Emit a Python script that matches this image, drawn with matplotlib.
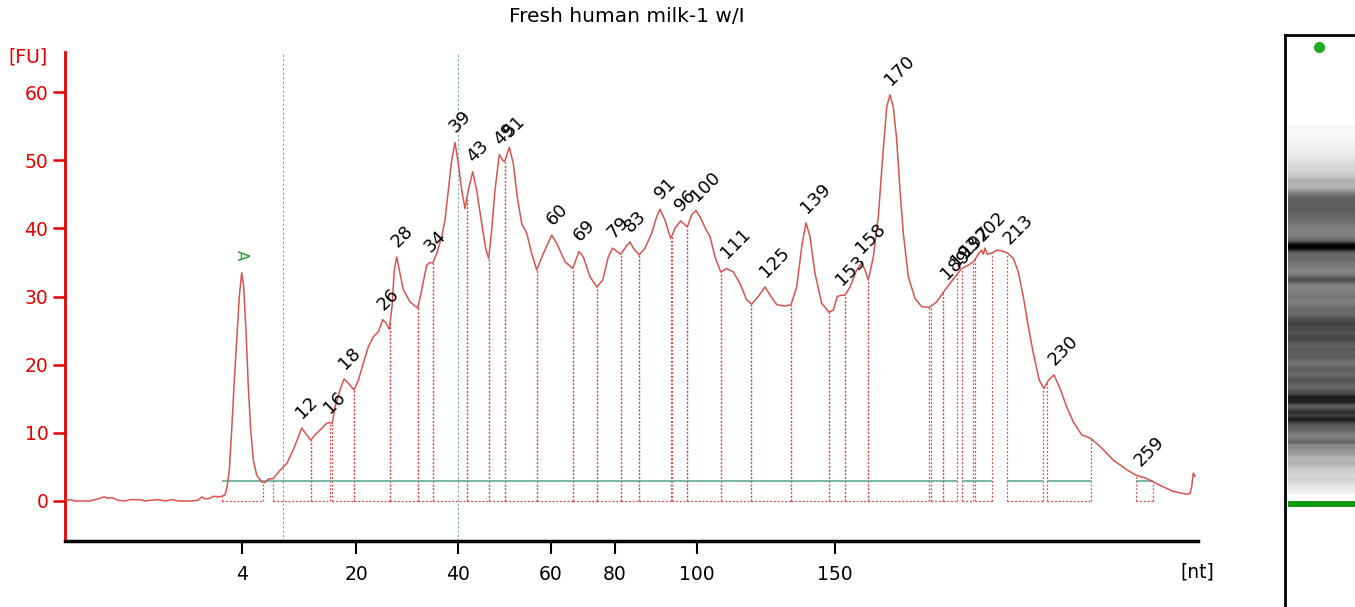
import numpy as np
import matplotlib
matplotlib.use("Agg")
import matplotlib.pyplot as plt

# ---------------- data ----------------
title = "Fresh human milk-1 w/I"

# migration time (arbitrary units along the x axis) and fluorescence [FU]
time = [65, 70, 75, 90, 100, 104, 108, 112, 118, 125, 130, 140, 145, 150, 158, 165,
        172, 178, 190, 198, 202, 205, 210, 214, 218, 222, 225, 227,
        229.3, 231.7, 234.3, 236.7, 239.3, 241.7, 243.7, 246, 248.3, 250.7, 253.3,
        256.7, 261.7, 265, 268.3, 273.3, 280, 286.7, 293.3, 298.3, 301.7, 306.7,
        310.7, 315, 320, 326.7, 330, 332.3, 335, 340, 344, 348.3, 354, 358.3,
        363.3, 368.3, 373.3, 378.3, 382.7, 386, 389.3, 392, 394.3, 396.7, 399.3,
        403.3, 410, 417.7, 421.7, 426.7, 430, 432.7, 436.7, 441.7, 445, 448.3,
        451.7, 455, 458.3, 461.7, 465, 468.3, 472.7, 476.7, 481.7, 486, 488.7,
        491.7, 495, 499.3, 502.7, 504.7, 509.3, 513.3, 517.3, 521.7, 526.7, 531.7,
        536.7, 543.3, 551.7, 556.7, 565, 572.7, 579, 583.3, 590, 596.7, 602.7,
        608.3, 612.5, 620.7, 626, 630, 633.3, 639, 645, 651.7, 656.7, 660, 665,
        670.7, 675, 680.7, 685, 687.3, 691.7, 696, 700, 706, 710, 715, 720.7,
        726.7, 733.3, 740, 746.7, 751.7, 758.3, 765, 770, 776.7, 785, 791, 796.7,
        801.7, 806, 810, 815, 821.7, 829, 833.3, 837.3, 841.7, 845, 850, 856.7,
        861.7, 865, 868.3, 873.3, 878.3, 882.7, 886.7, 890, 893.3, 896.7, 900,
        903.3, 908.3, 915, 921.7, 929.3, 936.7, 942.7, 950, 956.7, 961.7, 968.3,
        973.3, 978.3, 981.7, 983.3, 985, 987.3, 992.3, 996.7, 1001.7, 1007.3,
        1013.3, 1018.3, 1023.3, 1028.3, 1033.3, 1039.3, 1044, 1048.3, 1054, 1060,
        1066.7, 1073.3, 1081.7, 1090.7, 1100, 1113.3, 1126.7, 1135.7, 1146.7, 1160,
        1173.3, 1186.7, 1190, 1191.7, 1193.3, 1195]
fu = [0.1, 0.2, 0.0, 0.0, 0.4, 0.6, 0.4, 0.5, 0.1, 0.0, 0.2, 0.2, 0.0, 0.1, 0.2, 0.0,
      0.2, 0.0, 0.0, 0.1, 0.6, 0.3, 0.4, 0.7, 0.6, 0.7, 0.9, 2.0,
      4.5, 10.4, 17.7, 23.6, 30.0, 33.5, 31.4, 25.0, 16.8, 10.4, 6.0,
      3.8, 2.8, 2.7, 3.2, 3.3, 4.5, 5.5, 7.5, 9.4, 10.7, 9.7,
      8.9, 9.7, 10.4, 11.4, 11.5, 11.4, 13.8, 16.3, 17.9, 17.3, 16.3, 17.7,
      20.2, 22.6, 24.1, 24.8, 26.6, 26.1, 25.2, 28.5, 33.9, 35.8, 33.9,
      31.0, 29.2, 28.3, 31.0, 34.6, 35.0, 34.9, 36.3, 38.8, 41.2, 45.6,
      50.0, 52.6, 49.5, 45.6, 42.9, 45.6, 48.3, 45.6, 40.7, 36.8, 35.6,
      39.8, 45.6, 50.8, 50.0, 49.8, 51.9, 49.5, 44.6, 40.7, 39.3, 36.3,
      33.9, 36.3, 39.0, 37.8, 35.1, 34.1, 36.6, 35.8, 32.9, 31.4, 32.4,
      35.8, 37.1, 36.2, 37.3, 38.0, 37.1, 36.1, 37.1, 39.3, 41.7, 42.8, 41.2,
      38.5, 40.0, 41.1, 40.5, 40.2, 42.0, 42.6, 41.7, 39.8, 38.8, 35.8, 33.6,
      34.1, 33.6, 31.9, 29.5, 28.9, 30.0, 31.4, 30.2, 28.8, 28.6, 28.8, 31.4,
      37.3, 40.8, 38.8, 33.4, 29.0, 27.7, 28.0, 30.0, 30.2, 30.2, 31.4, 33.9,
      34.9, 33.9, 32.4, 35.8, 41.7, 50.5, 57.8, 59.6, 57.8, 53.0, 45.6,
      39.3, 32.9, 29.7, 28.5, 28.4, 29.2, 30.5, 31.9, 33.2, 34.1, 34.6,
      35.1, 36.2, 36.8, 36.2, 37.1, 36.2, 36.4, 36.8, 36.7, 36.4,
      35.6, 33.6, 30.0, 25.6, 21.7, 17.7, 16.5, 17.7, 18.5, 16.5,
      13.8, 11.6, 9.7, 9.2, 8.0, 6.0, 4.6, 3.8, 3.3, 2.3,
      1.4, 1.0, 1.1, 2.1, 4.1, 3.6]

# x-axis ladder ticks (nt)
tick_times = [242, 356, 458, 551, 615, 697, 835]
tick_labels = ["4", "20", "40", "60", "80", "100", "150"]

# called peaks: size label and peak time
peak_labels = ["12", "16", "18", "26", "28", "34", "39", "43", "49", "51", "60", "69",
               "79", "83", "91", "96", "100", "111", "125", "139", "153", "158", "170",
               "189", "193", "197", "202", "213", "230", "259"]
peak_times = [301.7, 329, 344, 382.7, 396.7, 430, 455, 472.7, 499.3, 509.3, 551.7, 579,
              612.5, 630, 660, 680.7, 696, 726.7, 765, 806, 841.7, 861.7, 890,
              946, 956, 966, 982, 1009, 1054, 1140]

# peak regions (start, end)
region_start = [222, 272.7, 310.7, 331.7, 354, 390, 418.3, 432.7, 466.7, 488.7, 504.7,
                536.7, 572.7, 596.7, 620.7, 639, 672, 687.3, 720.7, 751, 791, 829, 845,
                868.3, 931, 942.7, 961.7, 975, 1007.3, 1047.3, 1135.7]
region_end = [263.3, 310.7, 330, 354, 390, 418.3, 432.7, 466.7, 488.7, 504.7, 536.7,
              572.7, 596.7, 620.7, 639, 670.7, 687.3, 720.7, 751, 791, 829, 845, 868.3,
              929.3, 942.7, 956.7, 973.3, 992.3, 1043.3, 1091, 1153.3]

# baseline (green) segments and level
baseline_start = [222, 961.7, 1007.3, 1047.3, 1135.7]
baseline_end = [956.7, 992.3, 1043.3, 1091, 1153.3]
baseline_level = 2.9

marker_time = 241.7          # lower marker (4 nt)
upper_marker_time = 1393     # upper marker dot on the gel
ref_lines = [283, 458]

# ---------------- figure ----------------
W, H = 1355, 607
fig = plt.figure(figsize=(W / 100, H / 100), dpi=100)
plt.rcParams["font.family"] = ["DejaVu Sans"]

RED = "#e60000"
CURVE = "#d9534f"
DOT = "#e04848"
GREEN_BASE = "#6fae9e"

ax = fig.add_axes([65 / W, (H - 541) / H, (1198 - 65) / W, (541 - 52) / H])
ax.set_xlim(65, 1198)
ax.set_ylim(-5.87, 65.87)
for s in ("top", "right"):
    ax.spines[s].set_visible(False)
ax.spines["left"].set_color(RED)
ax.spines["left"].set_linewidth(2)
ax.spines["bottom"].set_color("black")
ax.spines["bottom"].set_linewidth(2.5)

ax.set_yticks(range(0, 61, 10))
ax.tick_params(axis="y", colors=RED, length=8.5, width=1.8, labelsize=13.5, pad=3.5)
ax.set_xticks(tick_times, tick_labels)
ax.tick_params(axis="x", colors="black", length=9, width=1.5, labelsize=13.5, pad=8)

time_a = np.asarray(time)
fu_a = np.asarray(fu)

for x in ref_lines:
    ax.axvline(x, color="#7aa5a5", ls=(0, (2, 2)), lw=0.8, zorder=1)

for s, e in zip(region_start, region_end):
    for x in (s, e):
        ax.vlines(x, 0, np.interp(x, time_a, fu_a), colors=DOT, linestyles=(0, (1.5, 1.5)),
                  lw=0.9, zorder=2)
    ax.hlines(0, s, e, colors=DOT, linestyles=(0, (1.5, 1.5)), lw=0.9, zorder=2)

for s, e in zip(baseline_start, baseline_end):
    ax.hlines(baseline_level, s, e, colors=GREEN_BASE, lw=1.3, zorder=2)

ax.plot(time_a, fu_a, color=CURVE, lw=1.1, zorder=3)

for lab, t in zip(peak_labels, peak_times):
    y = np.interp(t, time_a, fu_a)
    ax.annotate(lab, (t, y), xytext=(2.5, 4.5), textcoords="offset points",
                rotation=45, rotation_mode="anchor", ha="left", va="bottom",
                fontsize=13, color="black", zorder=4)

ax.annotate("A", (marker_time, np.interp(marker_time, time_a, fu_a)), xytext=(0, 9),
            textcoords="offset points", rotation=-90, ha="center", va="bottom",
            fontsize=11, color="#2a9a2a")

fig.text(28 / W, 1 - 57 / H, "[FU]", color=RED, fontsize=13.5, ha="center", va="center")
fig.text(1197 / W, 1 - 572 / H, "[nt]", color="black", fontsize=13.5, ha="center", va="center")
fig.text(627 / W, 1 - 17 / H, title, color="black", fontsize=14.5, ha="center", va="center")

# ---------------- pseudo-gel lane ----------------
gax = fig.add_axes([1285 / W, 0, (1360 - 1285) / W, (H - 35) / H])
px_per_time = 0.397
gel_marker_px = 504
t_top = marker_time + (gel_marker_px - 35) / px_per_time
t_bot = marker_time + (gel_marker_px - H) / px_per_time
gax.set_xlim(0, 1)
gax.set_ylim(t_bot, t_top)
tgrid = np.linspace(t_bot, t_top, 1500)
vals = np.interp(tgrid, time_a, fu_a, left=0, right=0)
vals[tgrid < 266] = 0
gax.imshow(vals[:, None], extent=[0.045, 1.0, t_bot, t_top], origin="lower",
           aspect="auto", cmap="gray_r", vmin=0, vmax=58, interpolation="bilinear")
gax.axhspan(marker_time - 7, marker_time + 7, xmin=0.045, xmax=1, color="#109a10", lw=0)
gax.plot([0.45], [upper_marker_time], "o", color="#22aa22", ms=7)
gax.set_xticks([])
gax.set_yticks([])
for s in ("right", "bottom"):
    gax.spines[s].set_visible(False)
for s in ("left", "top"):
    gax.spines[s].set_color("black")
    gax.spines[s].set_linewidth(2)

fig.savefig("out.png", dpi=100)
